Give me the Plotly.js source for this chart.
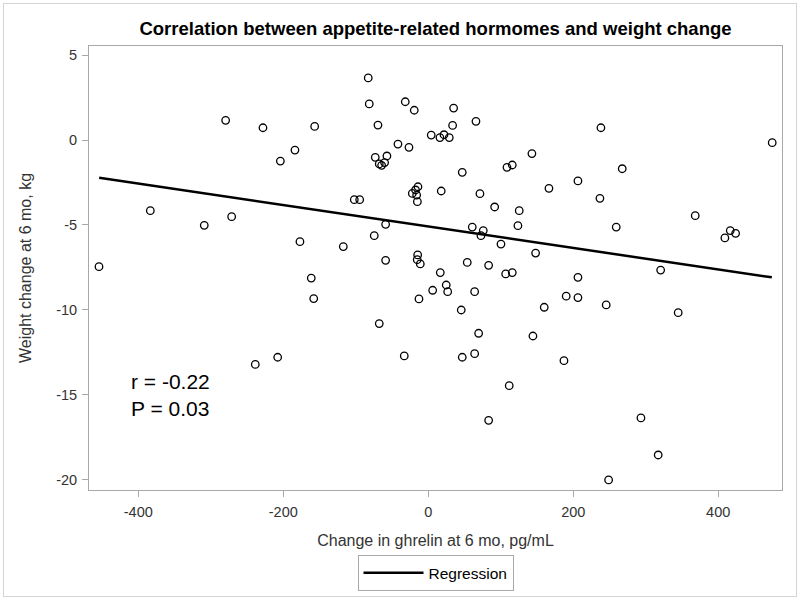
<!DOCTYPE html>
<html>
<head>
<meta charset="utf-8">
<script src="https://cdn.plot.ly/plotly-3.0.1.min.js"></script>
<style>
  html, body { margin: 0; padding: 0; background: #fff; }
  #wrap { position: relative; width: 800px; height: 602px; }
  #chart { width: 800px; height: 602px; }
  #frame { position: absolute; left: 3px; top: 3px; width: 792px; height: 592px;
           border: 1px solid #d4d4d4; pointer-events: none; }
</style>
</head>
<body>
<div id="wrap">
  <div id="chart"></div>
  <div id="frame"></div>
</div>
<script>
// Change in ghrelin at 6 mo (pg/mL)
const ghrelin = [
  -279.5, -228, -156.7, -183.9, -204, -383.4, -309, -271.2, -177, -454.2, -161.4,
  -158, -238.6, -207.7,
  -82.8, -81.4, -31.7, -19.3, 35, -69.4, 33.6, 65.8, 4.1, 16.1, 21.7, 29,
  -41.8, -26.6, -73.1, -57, -67.6, -64.3, -60.2, 143, 108.6, 115.9, 46.9,
  -14.2, -17.5, -22, -16, -15, 17.9, 71.3, 166.5, -102, -94.6, 91.6, 125.5,
  123.7, -58.8, -74.5, -117.2, 60.7, 75.9, 72.7, 100.3, 148.1, -58.8,
  -14.6, -15.2, -11, 53.8, 83.3, 16.6, 106.8, 115.9,
  238.2, 474.5, 267.6, 206.5, 236.8, 259.3, 368.3, 409.2, 416.6, 424, 320.6, 206.5,
  24.8, 6.1, 26.8, 64, -12.8, 45.5, -67.6, 69.5, 160, 144.4, -33.1, 46.9, 64,
  111.7, 83.3,
  190.3, 206.5, 245.5, 344.8, 187.2, 293.4, 317.2, 248.8
];
// Weight change at 6 mo (kg)
const weight = [
  1.16, 0.72, 0.8, -0.59, -1.24, -4.16, -5.02, -4.51, -5.98, -7.45, -8.12,
  -9.33, -13.2, -12.78,
  3.65, 2.12, 2.25, 1.75, 1.88, 0.88, 0.86, 1.1, 0.29, 0.14, 0.31, 0.14,
  -0.24, -0.43, -1.02, -0.94, -1.41, -1.49, -1.33, -0.8, -1.61, -1.47, -1.9,
  -2.75, -2.94, -3.14, -3.24, -3.63, -3.0, -3.16, -2.84, -3.51, -3.51, -3.94, -4.16,
  -5.04, -4.96, -5.63, -6.27, -5.12, -5.33, -5.63, -6.12, -6.65, -7.08,
  -6.76, -7.04, -7.29, -7.2, -7.37, -7.8, -7.88, -7.8,
  0.72, -0.16, -1.69, -2.41, -3.43, -5.12, -4.45, -5.76, -5.33, -5.49, -7.65, -8.08,
  -8.53, -8.84, -8.92, -8.92, -9.35, -10.0, -10.8, -11.37, -9.84, -11.53, -12.7, -12.78, -12.57,
  -14.45, -16.49,
  -9.19, -9.27, -9.7, -10.16, -12.98, -16.35, -18.53, -20.0
];
// Regression line end points
const regX = [-454, 474];
const regY = [-2.22, -8.08];

const xTicks = [-400, -200, 0, 200, 400];
const yTicks = [5, 0, -5, -10, -15, -20];
const statsText = ["r = -0.22", "P = 0.03"];

const FONT = "Liberation Sans, Arial, sans-serif";

const traces = [
  {
    type: "scatter", mode: "markers", x: ghrelin, y: weight,
    marker: { symbol: "circle-open", size: 7.5, color: "#000", line: { width: 1.3, color: "#000" } },
    showlegend: false, hoverinfo: "x+y"
  },
  {
    type: "scatter", mode: "lines", x: regX, y: regY, name: "Regression",
    line: { color: "#000", width: 2.5 }, showlegend: true
  }
];

const axisCommon = {
  showgrid: false, zeroline: false, showline: true, mirror: true, automargin: false,
  linecolor: "#a8a8a8", linewidth: 1, ticks: "outside", ticklen: 6,
  tickcolor: "#a8a8a8", tickwidth: 1,
  tickfont: { family: FONT, size: 14.5, color: "#333" }
};

const layout = {
  width: 800, height: 602,
  margin: { l: 89, r: 18, t: 46, b: 112, autoexpand: false },
  paper_bgcolor: "#fff", plot_bgcolor: "#fff",
  font: { family: FONT, color: "#333" },
  title: {
    text: "<b>Correlation between appetite-related hormomes and weight change</b>",
    font: { family: FONT, size: 18.5, color: "#000" },
    x: 0.5, xref: "paper", xanchor: "center", y: 0.953, yref: "container", yanchor: "middle",
    automargin: false
  },
  xaxis: Object.assign({}, axisCommon, {
    range: [-468, 488], tickvals: xTicks, ticktext: xTicks.map(String),
    ticklabelstandoff: 3,
    title: { text: "Change in ghrelin at 6 mo, pg/mL", font: { family: FONT, size: 16, color: "#333" }, standoff: 15 }
  }),
  yaxis: Object.assign({}, axisCommon, {
    range: [-20.59, 5.53], tickvals: yTicks, ticktext: yTicks.map(String),
    ticklabelstandoff: 2,
    title: { text: "Weight change at 6 mo, kg", font: { family: FONT, size: 16, color: "#333" }, standoff: 20 }
  }),
  legend: {
    orientation: "h", x: 0.5, xanchor: "center", xref: "paper",
    y: -0.147, yanchor: "top", yref: "paper",
    itemwidth: 60,
    bordercolor: "#a8a8a8", borderwidth: 1, bgcolor: "#fff",
    font: { family: FONT, size: 15.5, color: "#000" }
  },
  annotations: [
    {
      xref: "paper", yref: "paper", x: 0.058, y: 0.275, xanchor: "left", yanchor: "top",
      text: statsText.join("<br>"), showarrow: false, align: "left",
      font: { family: FONT, size: 21, color: "#000" }
    }
  ]
};

Plotly.newPlot("chart", traces, layout, { displayModeBar: false, staticPlot: true });
</script>
</body>
</html>
